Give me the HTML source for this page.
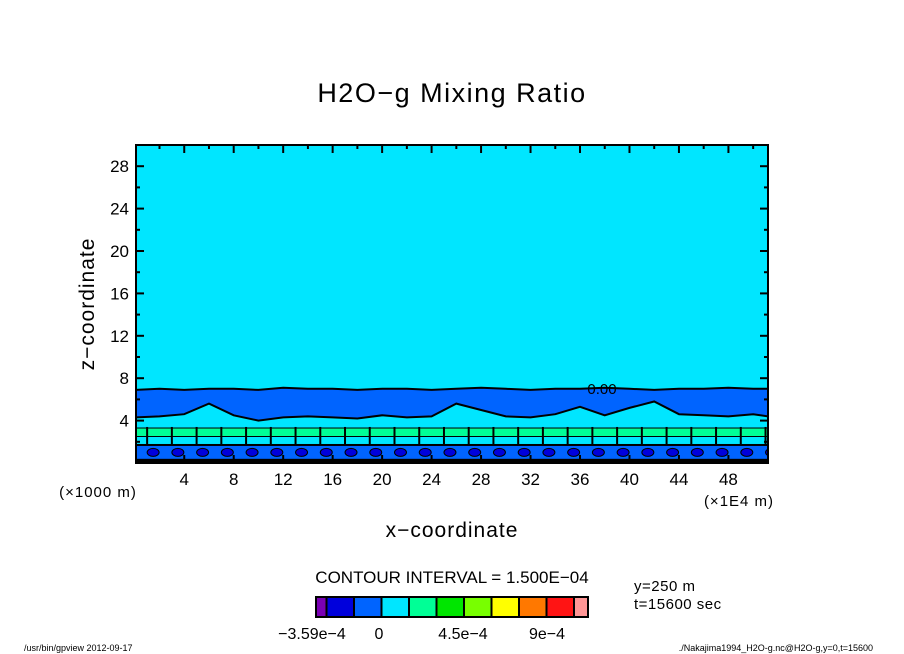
<!DOCTYPE html>
<html><head><meta charset="utf-8"><style>
html,body{margin:0;padding:0;background:#fff;}
svg{display:block;font-family:"Liberation Sans","DejaVu Sans",sans-serif;}
</style></head><body>
<svg id="chart" width="904" height="654" viewBox="0 0 904 654" xmlns="http://www.w3.org/2000/svg">
<defs><clipPath id="plotclip"><rect x="136" y="145" width="632" height="318"/></clipPath></defs>
<rect x="0" y="0" width="904" height="654" fill="#fff"/>
<text x="452" y="102" font-size="27" text-anchor="middle" letter-spacing="1.5">H2O−g Mixing Ratio</text>
<g id="field" clip-path="url(#plotclip)"></g>
<g id="axes"></g>
<text x="452" y="537" font-size="21" text-anchor="middle" letter-spacing="1">x−coordinate</text>
<text transform="translate(94,304) rotate(-90)" font-size="21" text-anchor="middle" letter-spacing="1">z−coordinate</text>
<text x="98" y="497" font-size="15" text-anchor="middle" letter-spacing="1">(×1000 m)</text>
<text x="739" y="506" font-size="15" text-anchor="middle" letter-spacing="1">(×1E4 m)</text>
<text x="602" y="394" font-size="15" text-anchor="middle">0.00</text>
<text x="452" y="583" font-size="17" text-anchor="middle">CONTOUR INTERVAL = 1.500E−04</text>
<text x="634" y="591" font-size="15" letter-spacing="0.5">y=250 m</text>
<text x="634" y="609" font-size="15" letter-spacing="0.5">t=15600 sec</text>
<g id="cbar"></g>
<text x="24" y="651" font-size="9">/usr/bin/gpview  2012-09-17</text>
<text x="873" y="651" font-size="9" text-anchor="end">./Nakajima1994_H2O-g.nc@H2O-g,y=0,t=15600</text>
</svg>
<script>
const xSamples=[0,2,4,6,8,10,12,14,16,18,20,22,24,26,28,30,32,34,36,38,40,42,44,46,48,50,51.2];
const blueTop=[6.9,7.0,6.9,7.0,7.0,6.9,7.1,7.0,7.0,6.9,7.0,7.0,6.9,7.0,7.1,7.0,6.9,7.0,7.0,7.1,7.0,6.9,7.0,7.0,7.1,7.0,7.0];
const blueBottom=[4.3,4.4,4.6,5.6,4.5,4.0,4.3,4.4,4.3,4.2,4.5,4.3,4.4,5.6,5.0,4.4,4.3,4.6,5.3,4.5,5.2,5.8,4.6,4.5,4.4,4.6,4.4];
const bandLevels=[3.4,3.3,2.5,1.7,0.3];
const yTicks=[4,8,12,16,20,24,28];
const xTicks=[4,8,12,16,20,24,28,32,36,40,44,48];
const cbColors=["#7a00b4","#0000dc","#0064ff","#00e6ff","#00ff96","#00e600","#78ff00","#ffff00","#ff7800","#ff1414","#ff9696"];
const cbLabels=["−3.59e−4","0","4.5e−4","9e−4"];
const cbLabelValues=[-3.59e-4,0,4.5e-4,9e-4];

const NS="http://www.w3.org/2000/svg";
const X0=136,X1=768,Y0=463,Y1=145,XMIN=0.1,XMAX=51.2,ZMIN=0,ZMAX=30;
const sx=v=>X0+(v-XMIN)/(XMAX-XMIN)*(X1-X0);
const sy=v=>Y0-(v-ZMIN)/(ZMAX-ZMIN)*(Y0-Y1);
function mk(t,a,p){const e=document.createElementNS(NS,t);for(const k in a)e.setAttribute(k,a[k]);p.appendChild(e);return e;}
const field=document.getElementById('field');
const r0=mk('rect',{x:X0,y:Y1,width:X1-X0,height:Y0-Y1,fill:'#00e6ff'},field);


const cx=v=>Math.max(X0,Math.min(X1,sx(v)));
function line(arr){return xSamples.map((x,i)=>cx(x).toFixed(1)+','+sy(arr[i]).toFixed(1)).join(' L');}
const topPath='M'+line(blueTop);
const botRev=xSamples.map((x,i)=>[cx(x),sy(blueBottom[i])]).reverse().map(p=>p[0].toFixed(1)+','+p[1].toFixed(1)).join(' L');
const bb=mk('path',{d:topPath+' L'+botRev+' Z',fill:'#0064ff',stroke:'#000','stroke-width':2},field);


const g1=mk('rect',{x:X0,y:sy(bandLevels[1]),width:X1-X0,height:sy(bandLevels[2])-sy(bandLevels[1]),fill:'#00ff96',stroke:'#000','stroke-width':1},field);


const b2=mk('rect',{x:X0,y:sy(bandLevels[3]),width:X1-X0,height:sy(bandLevels[4])-sy(bandLevels[3]),fill:'#0064ff',stroke:'#000','stroke-width':2},field);


for(let i=0;i<xSamples.length-1;i++){
  const x=sx(xSamples[i]+1);
  const s=mk('line',{x1:x,x2:x,y1:sy(bandLevels[0]),y2:sy(bandLevels[3]),stroke:'#000','stroke-width':2},field);
  
  
  const e=mk('ellipse',{cx:x+6,cy:sy(1.0),rx:6,ry:4,fill:'#0000dc',stroke:'#000','stroke-width':1},field);
  
  
}
const bl=mk('rect',{x:X0,y:sy(bandLevels[4]),width:X1-X0,height:Y0-sy(bandLevels[4]),fill:'#000'},field);



const axes=document.getElementById('axes');
const fr=mk('rect',{x:X0,y:Y1,width:X1-X0,height:Y0-Y1,fill:'none',stroke:'#000','stroke-width':2},axes);


for(let v=2;v<30;v+=2){
  const y=sy(v),L=v%4==0?8:4;
  mk('line',{x1:X0,x2:X0+L,y1:y,y2:y,stroke:'#000','stroke-width':2},axes);
  mk('line',{x1:X1,x2:X1-L,y1:y,y2:y,stroke:'#000','stroke-width':2},axes);
}
for(let v=2;v<51;v+=2){
  const x=sx(v),L=v%4==0?8:4;
  mk('line',{x1:x,x2:x,y1:Y0,y2:Y0-L,stroke:'#000','stroke-width':2},axes);
  mk('line',{x1:x,x2:x,y1:Y1,y2:Y1+L,stroke:'#000','stroke-width':2},axes);
}
yTicks.forEach(v=>{const t=mk('text',{x:X0-7,y:sy(v)+6,'font-size':17,'text-anchor':'end'},axes);t.textContent=v;

});
xTicks.forEach(v=>{const t=mk('text',{x:sx(v),y:485,'font-size':17,'text-anchor':'middle'},axes);t.textContent=v;

});

const cb=document.getElementById('cbar');
const CX=316,CY=597,CH=20,W0=10.5,W=27.5;
cbColors.forEach((c,i)=>{
  const x=i==0?CX:CX+W0+(i-1)*W, w=i==0?W0:(i==cbColors.length-1?588-x:W);
  const r=mk('rect',{x:x,y:CY,width:w,height:CH,fill:c,stroke:'#000','stroke-width':2},cb);
  
  
});
const cbScale=v=>379+v/4.5e-4*84;
cbLabels.forEach((l,i)=>{
  const t=mk('text',{x:cbScale(cbLabelValues[i]),y:639,'font-size':16,'text-anchor':'middle'},cb);t.textContent=l;
  
  
});
</script>
</body></html>
